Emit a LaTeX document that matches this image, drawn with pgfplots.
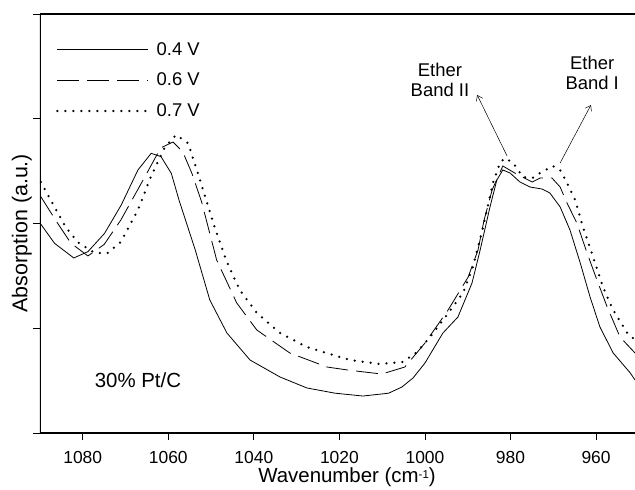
\documentclass[border=0pt]{standalone}
\usepackage{fontspec}
\setmainfont{Liberation Sans}
\usepackage{pgfplots}
\pgfplotsset{compat=1.18}
\usetikzlibrary{arrows.meta}
\begin{document}
\begin{tikzpicture}
\begin{axis}[
  scale only axis, width=595bp, height=419bp,
  x dir=reverse, xmin=950.9, xmax=1090, ymin=0, ymax=4,
  axis line style={draw=none},
  xtick={960,980,1000,1020,1040,1060,1080},
  ytick={0,1,2,3,4}, yticklabels={},
  xtick pos=bottom, ytick pos=left,
  tick align=outside, major tick length=7bp,
  tick style={line width=0.9bp, black},
  /pgf/number format/assume math mode=true,
  /pgf/number format/1000 sep={},
  xticklabel style={font=\fontsize{17.5}{20}\selectfont, anchor=base, inner sep=0pt, yshift=-23bp},
  xlabel style={at={(axis description cs:0.516,-0.1193)}, anchor=base, inner sep=0pt, font=\fontsize{20.5}{24}\selectfont},
  ylabel style={at={(axis description cs:-0.0303,0.477)}, rotate=0, anchor=center, inner sep=0pt, font=\fontsize{21.5}{24}\selectfont},
  xlabel={Wavenumber (cm\raisebox{4.5bp}{\fontsize{11.5}{12}\selectfont -1})},
  ylabel={Absorption (a.u.)},
  legend image code/.code={\draw[#1] (0bp,0bp) -- (91bp,0bp);},
  legend style={at={(axis description cs:0.0269,0.938)}, anchor=north west, draw=none, fill=none,
    font=\fontsize{18.5}{21}\selectfont, row sep=12.5bp, inner sep=0pt,
    /tikz/every odd column/.append style={column sep=5bp}},
  legend cell align=left,
]
\addplot[black, line width=0.8bp] coordinates {
(1090.0,2.005) (1086.6,1.811) (1082.1,1.671) (1078.8,1.731) (1074.9,1.906) (1071.0,2.177)
(1067.1,2.511) (1064.0,2.670) (1061.7,2.638) (1059.3,2.479) (1057.5,2.224) (1053.7,1.747)
(1050.3,1.270) (1046.3,0.955) (1040.9,0.697) (1033.9,0.535) (1027.6,0.430) (1021.0,0.380)
(1014.5,0.353) (1008.5,0.380) (1005.4,0.439) (1002.8,0.525) (1000.0,0.668) (995.8,0.955)
(992.3,1.107) (989.0,1.432) (987.1,1.747) (984.8,2.158) (983.2,2.415) (981.8,2.511)
(980.1,2.482) (977.8,2.396) (975.4,2.348) (972.6,2.329) (970.8,2.291) (968.4,2.158)
(966.1,1.938) (963.7,1.623) (961.4,1.298) (959.1,1.012) (956.0,0.764) (952.0,0.573) (950.9,0.506)
};
\addplot[black, line width=0.8bp, dash pattern=on 22bp off 8bp] coordinates {
(1089.8,2.256) (1086.0,2.010) (1082.8,1.814) (1078.8,1.690) (1075.0,1.800) (1071.1,2.033)
(1065.5,2.444) (1061.8,2.721) (1058.9,2.778) (1056.6,2.683) (1054.5,2.480) (1052.2,2.205)
(1048.7,1.652) (1044.0,1.241) (1039.3,0.983) (1031.6,0.764) (1022.9,0.630) (1018.0,0.601)
(1010.1,0.563) (1004.7,0.630) (1000.0,0.859) (994.6,1.174) (989.9,1.489) (987.6,1.747)
(986.2,2.030) (984.3,2.320) (981.8,2.549) (978.5,2.470) (974.9,2.396) (973.1,2.434)
(970.3,2.434) (968.4,2.348) (966.8,2.196) (964.5,2.005) (962.1,1.718) (959.8,1.461)
(957.4,1.203) (954.4,0.916) (950.9,0.764)
};
\addplot[black, line width=2.5bp, dash pattern=on 0bp off 8bp, line cap=round] coordinates {
(1089.8,2.396) (1087.5,2.224) (1084.0,1.967) (1081.2,1.823) (1077.2,1.718) (1074.2,1.718)
(1071.1,1.823) (1067.1,2.129) (1064.1,2.444) (1060.8,2.730) (1058.2,2.845) (1055.4,2.768)
(1053.1,2.482) (1051.0,2.205) (1048.7,1.909) (1046.3,1.632) (1043.3,1.365) (1039.3,1.146)
(1033.9,0.955) (1027.6,0.821) (1021.5,0.745) (1017.5,0.697) (1010.5,0.659) (1005.1,0.678)
(1001.9,0.773) (998.8,0.916) (994.9,1.126) (991.1,1.337) (988.8,1.585) (986.4,1.967)
(984.1,2.387) (982.5,2.578) (981.3,2.625) (979.4,2.578) (977.1,2.444) (974.9,2.434)
(973.1,2.482) (970.1,2.549) (968.4,2.511) (966.8,2.387) (964.9,2.224) (963.0,1.957)
(960.7,1.680) (958.4,1.394) (956.0,1.174) (952.7,0.955) (950.9,0.888)
};
\legend{0.4 V, 0.6 V, 0.7 V}
\draw[line width=1.2bp] (axis description cs:0,1) -- (axis description cs:0,0) -- (axis description cs:1,0);
\draw[line width=1.2bp] (axis description cs:0,1) -- (axis description cs:1,1);
\node[font=\fontsize{18.5}{20}\selectfont, align=center, inner sep=0pt] at (axis cs:996.5,3.37) {Ether\\Band II};
\node[font=\fontsize{18.5}{20}\selectfont, align=center, inner sep=0pt] at (axis cs:960.9,3.437) {Ether\\Band I};
\draw[line width=0.5bp, -{Straight Barb[length=5bp,width=7bp]}] (axis cs:980.8,2.644) -- (axis cs:987.8,3.227);
\draw[line width=0.5bp, -{Straight Barb[length=5bp,width=7bp]}] (axis cs:968.4,2.578) -- (axis cs:961.2,3.131);
\node[font=\fontsize{20.5}{24}\selectfont, inner sep=0pt] at (axis cs:1067.1,0.506) {30\% Pt/C};
\coordinate (bbl) at (axis description cs:-0.0672,-0.1360);
\coordinate (btr) at (axis description cs:1,1.0334);
\end{axis}
\pgfresetboundingbox
\path (bbl) rectangle (btr);
\end{tikzpicture}
\end{document}
